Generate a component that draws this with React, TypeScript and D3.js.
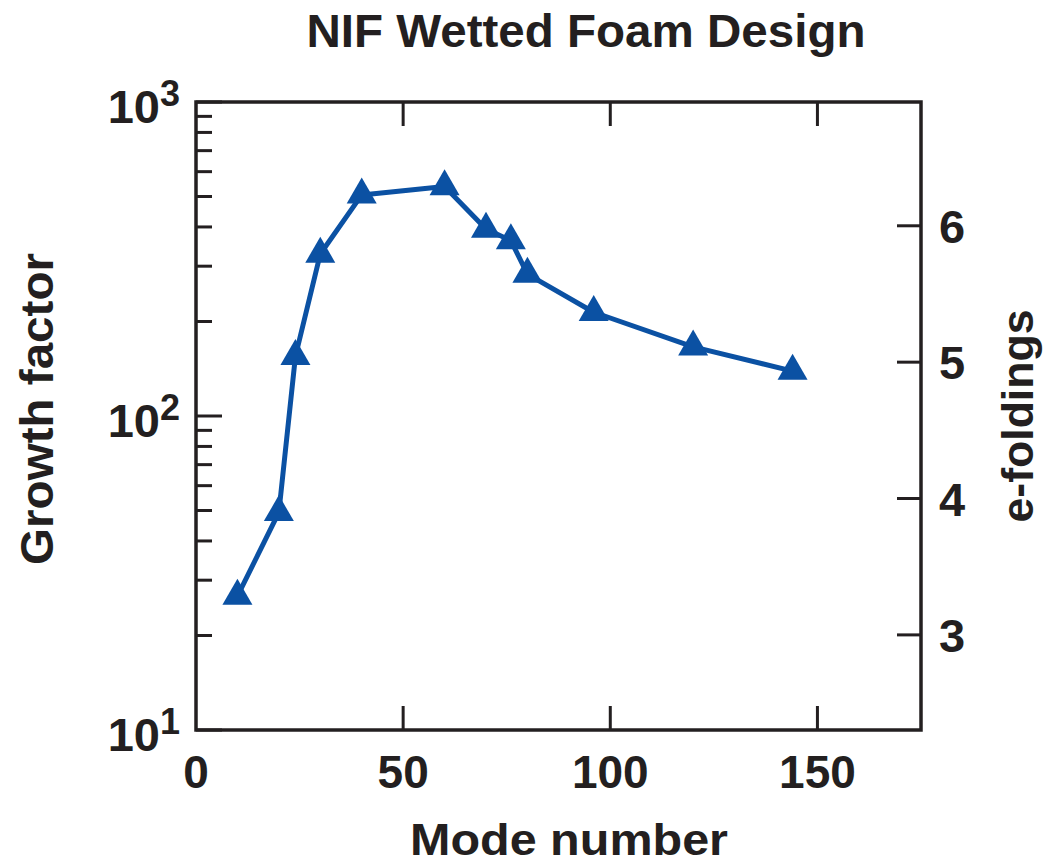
import React from 'react';
import * as d3 from 'd3';

// Mode number vs growth factor
const modes = [10, 20, 24, 30, 40, 60, 70, 76, 80, 96, 120, 144];
const growth = [26.7, 49.3, 155, 328, 506, 538, 394, 362, 283, 214, 166, 139];

const xTicks = [0, 50, 100, 150];
const yMajor = [10, 100, 1000];
const yMinor = [20, 30, 40, 50, 60, 70, 80, 90, 200, 300, 400, 500, 600, 700, 800, 900];
const eTicks = [3, 4, 5, 6];

const W = 1049;
const H = 863;
const left = 196, right = 921, top = 102, bottom = 730;
const ink = '#231f20';
const blue = '#0b51a3';
const font = '"Liberation Sans", Arial, Helvetica, sans-serif';

export default function App() {
  const x = d3.scaleLinear().domain([0, 175]).range([left, right]);
  const y = d3.scaleLog().domain([10, 1000]).range([bottom, top]);
  // e-foldings = ln(growth factor), same pixel range
  const yE = d3.scaleLinear().domain([Math.log(10), Math.log(1000)]).range([bottom, top]);

  const pts = modes.map((m, i) => [m, growth[i]] as [number, number]);
  const line = d3.line<[number, number]>().x(d => x(d[0])).y(d => y(d[1]));
  const tri = d3.symbol().type(d3.symbolTriangle).size(390)();

  return (
    <svg width={W} height={H} style={{ position: 'absolute', left: 0, top: 0, background: '#fff' }}
      fontFamily={font} fontWeight="bold" fill={ink}>
      <text x={586} y={47} fontSize={47} textAnchor="middle" textLength={559} lengthAdjust="spacingAndGlyphs">
        NIF Wetted Foam Design
      </text>

      {/* frame */}
      <rect x={left} y={top} width={right - left} height={bottom - top} fill="none" stroke={ink} strokeWidth={3.5} />

      {/* x ticks bottom + top */}
      {xTicks.filter(t => t > 0).map(t => (
        <g key={'xt' + t} stroke={ink} strokeWidth={3}>
          <line x1={x(t)} x2={x(t)} y1={bottom} y2={bottom - 24} />
          <line x1={x(t)} x2={x(t)} y1={top} y2={top + 24} />
        </g>
      ))}
      {xTicks.map(t => (
        <text key={'xl' + t} x={x(t)} y={788} fontSize={46} textAnchor="middle">{t}</text>
      ))}
      <text x={569} y={855} fontSize={44} textAnchor="middle" textLength={318} lengthAdjust="spacingAndGlyphs">
        Mode number
      </text>

      {/* left log axis */}
      {yMajor.map(t => (
        <line key={'ym' + t} x1={left} x2={left + 26} y1={y(t)} y2={y(t)} stroke={ink} strokeWidth={3} />
      ))}
      {yMinor.map(t => (
        <line key={'yn' + t} x1={left} x2={left + 16} y1={y(t)} y2={y(t)} stroke={ink} strokeWidth={3} />
      ))}
      {yMajor.map(t => (
        <text key={'yl' + t} x={180} y={y(t) + 21} fontSize={47} textAnchor="end">
          10<tspan dy={-17} fontSize={36}>{Math.round(Math.log10(t))}</tspan>
        </text>
      ))}
      <text transform={`translate(53,409) rotate(-90)`} fontSize={46} textAnchor="middle"
        textLength={312} lengthAdjust="spacingAndGlyphs">Growth factor</text>

      {/* right e-foldings axis */}
      {eTicks.map(t => (
        <g key={'e' + t}>
          <line x1={right} x2={right - 24} y1={yE(t)} y2={yE(t)} stroke={ink} strokeWidth={3} />
          <text x={939} y={yE(t) + 17} fontSize={47}>{t}</text>
        </g>
      ))}
      <text transform={`translate(1033,416) rotate(-90)`} fontSize={44} textAnchor="middle"
        textLength={213} lengthAdjust="spacingAndGlyphs">e-foldings</text>

      {/* data */}
      <path d={line(pts) || ''} fill="none" stroke={blue} strokeWidth={5} strokeLinejoin="round" />
      {pts.map((d, i) => (
        <path key={'p' + i} d={tri || ''} transform={`translate(${x(d[0])},${y(d[1])})`} fill={blue} />
      ))}
    </svg>
  );
}
